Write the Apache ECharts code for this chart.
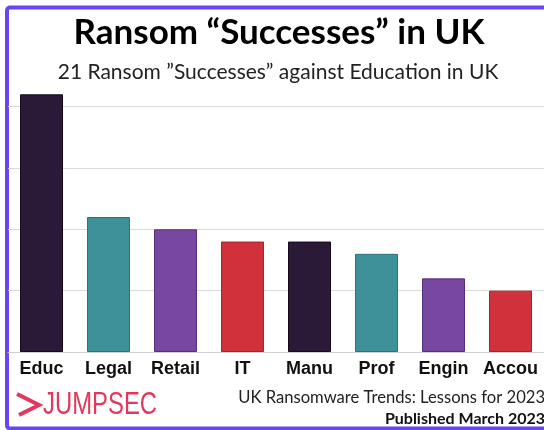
<!DOCTYPE html>
<html>
<head>
<meta charset="utf-8">
<script src="https://cdn.jsdelivr.net/npm/echarts@6/dist/echarts.min.js"></script>
<style>
  html, body { margin: 0; padding: 0; background: #fff; }
  #chart { width: 544px; height: 430px; }
</style>
</head>
<body>
<div id="chart"></div>
<script>
const sectors = ['Educ', 'Legal', 'Retail', 'IT', 'Manu', 'Prof', 'Engin', 'Accou'];
const successes = [21, 11, 10, 9, 9, 8, 6, 5];
const barColors = ['#2b1a37', '#3f9199', '#7847a1', '#d1313a', '#2b1a37', '#3f9199', '#7847a1', '#d1313a'];
const barBorders = ['#140a1c', '#2c727a', '#55307a', '#a8222a', '#140a1c', '#2c727a', '#55307a', '#a8222a'];

const chart = echarts.init(document.getElementById('chart'));

const option = {
  animation: false,
  backgroundColor: '#fff',
  grid: { left: 8, width: 541, top: 94.3, bottom: 78 },
  xAxis: {
    type: 'category',
    data: sectors,
    axisLine: { lineStyle: { color: '#d0d0d0', width: 1 } },
    axisTick: { show: false },
    axisLabel: {
      interval: 0,
      margin: 8,
      color: '#111',
      fontFamily: 'Liberation Sans',
      fontWeight: 'bold',
      fontSize: 18
    }
  },
  yAxis: {
    type: 'value',
    min: 0,
    max: 21,
    interval: 5,
    axisLabel: { show: false },
    axisLine: { show: false },
    axisTick: { show: false },
    splitLine: { showMaxLine: false, lineStyle: { color: '#dadada', width: 1 } }
  },
  series: [{
    type: 'bar',
    barWidth: 43,
    data: successes.map((v, i) => ({
      value: v,
      itemStyle: { color: barColors[i], borderColor: barBorders[i], borderWidth: 1 }
    }))
  }],
  graphic: [
    {
      type: 'rect',
      shape: { x: 7, y: 7.5, width: 570, height: 421, r: 3 },
      style: { fill: 'none', stroke: '#6a45f5', lineWidth: 4 }
    },
    {
      type: 'text', x: 279, y: 33,
      style: {
        text: 'Ransom \u201cSuccesses\u201d in UK',
        fontFamily: 'Lato', fontWeight: 'bold', fontSize: 35,
        fill: '#000', textAlign: 'center', textVerticalAlign: 'middle'
      }
    },
    {
      type: 'text', x: 278, y: 72,
      style: {
        text: '21 Ransom \u201dSuccesses\u201d against Education in UK',
        fontFamily: 'Lato', fontSize: 21,
        fill: '#222', textAlign: 'center', textVerticalAlign: 'middle'
      }
    },
    {
      type: 'polyline',
      shape: { points: [[17, 394], [39, 405], [19, 415]] },
      style: { stroke: '#e2385c', lineWidth: 4, fill: 'none' }
    },
    {
      type: 'text', x: 43, y: 405, scaleX: 0.77,
      style: {
        text: 'JUMPSEC',
        fontFamily: 'Liberation Sans', fontSize: 31,
        fill: '#e2385c', textAlign: 'left', textVerticalAlign: 'middle'
      }
    },
    {
      type: 'text', x: 545, y: 398,
      style: {
        text: 'UK Ransomware Trends: Lessons for 2023',
        fontFamily: 'Lato', fontSize: 16.6,
        fill: '#222', textAlign: 'right', textVerticalAlign: 'middle'
      }
    },
    {
      type: 'text', x: 545, y: 419,
      style: {
        text: 'Published March 2023',
        fontFamily: 'Lato', fontWeight: 'bold', fontSize: 16,
        fill: '#111', textAlign: 'right', textVerticalAlign: 'middle'
      }
    }
  ]
};

chart.setOption(option);
</script>
</body>
</html>
